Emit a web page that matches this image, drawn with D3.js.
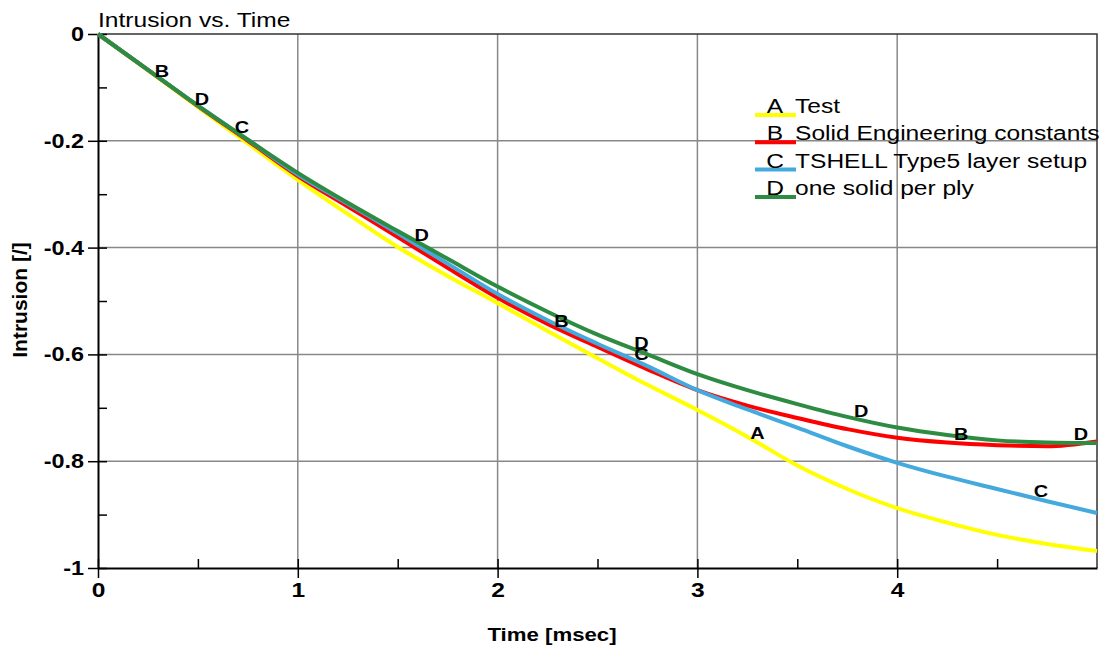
<!DOCTYPE html>
<html>
<head>
<meta charset="utf-8">
<script src="https://cdnjs.cloudflare.com/ajax/libs/d3/7.8.5/d3.min.js"></script>
<style>
  body { margin: 0; background: #fff; }
  svg { display: block; font-family: "Liberation Sans", Arial, sans-serif; }
</style>
</head>
<body>
<svg class="chart" width="1106" height="650"></svg>
<script>
// values
const time    = [0, 0.25, 0.5, 0.75, 1, 1.25, 1.5, 1.75, 2, 2.25, 2.5, 2.75, 3, 3.25, 3.5, 3.75, 4, 4.25, 4.5, 4.75, 5];
const testA   = [0, -0.068, -0.137, -0.205, -0.273, -0.337, -0.399, -0.453, -0.504, -0.556, -0.607, -0.657, -0.704, -0.754, -0.808, -0.852, -0.888, -0.915, -0.938, -0.955, -0.968];
const solidB  = [0, -0.067, -0.135, -0.200, -0.266, -0.323, -0.380, -0.438, -0.494, -0.543, -0.586, -0.628, -0.667, -0.696, -0.719, -0.740, -0.756, -0.765, -0.770, -0.772, -0.763];
const tshellC = [0, -0.067, -0.134, -0.198, -0.263, -0.318, -0.373, -0.430, -0.487, -0.536, -0.580, -0.622, -0.667, -0.703, -0.737, -0.772, -0.803, -0.829, -0.852, -0.875, -0.897];
const plyD    = [0, -0.067, -0.134, -0.198, -0.260, -0.316, -0.369, -0.421, -0.473, -0.520, -0.563, -0.600, -0.637, -0.667, -0.693, -0.717, -0.737, -0.751, -0.761, -0.765, -0.766];

const letters  = ["A", "B", "C", "D"];
const names    = ["Test", "Solid Engineering constants", "TSHELL Type5 layer setup", "one solid per ply"];
const colors   = ["#ffff00", "#ff0000", "#44aade", "#2e8b42"];
// where the letter markers sit along each curve (time)
const markAt   = [[3.3], [0.32, 2.32, 4.32], [0.72, 2.72, 4.72], [0.52, 1.62, 2.72, 3.82, 4.92]];

const xMajor = [0, 1, 2, 3, 4];
const xMinor = [0.5, 1.5, 2.5, 3.5, 4.5];
const yMajor = [0, -0.2, -0.4, -0.6, -0.8, -1];
const yMinor = [-0.1, -0.3, -0.5, -0.7, -0.9];

const svg = d3.select("svg.chart");
const margin = {top: 34, right: 9, bottom: 82, left: 98};
const width = svg.attr("width") - margin.left - margin.right;
const height = svg.attr("height") - margin.top - margin.bottom;
const sx = 1.17; // the reference text is stretched sideways

let x = d3.scaleLinear().domain([0, 5]).range([0, width]),
    y = d3.scaleLinear().domain([-1, 0]).range([height, 0]);

let g = svg.append("g").attr("transform", "translate(" + margin.left + "," + margin.top + ")");

// grid
g.append("g").selectAll("line").data(xMajor.slice(1)).enter().append("line")
    .attr("x1", d => x(d)).attr("x2", d => x(d))
    .attr("y1", 0).attr("y2", height)
    .attr("stroke", "#888").attr("stroke-width", 1.5);
g.append("g").selectAll("line").data(yMajor.slice(1, -1)).enter().append("line")
    .attr("x1", 0).attr("x2", width)
    .attr("y1", d => y(d)).attr("y2", d => y(d))
    .attr("stroke", "#888").attr("stroke-width", 1.5);

// frame top / right
g.append("path")
    .attr("d", "M0,0H" + width + "V" + height)
    .attr("fill", "none").attr("stroke", "#333").attr("stroke-width", 1.5);

// inward ticks (major + minor)
g.append("g")
    .attr("transform", "translate(0," + height + ")")
    .call(d3.axisBottom(x).tickValues(xMajor.concat(xMinor)).tickSize(-9).tickSizeOuter(0).tickFormat(""))
    .call(a => a.select(".domain").remove())
    .selectAll("line").attr("stroke", "#000").attr("stroke-width", 1.5);
g.append("g")
    .call(d3.axisLeft(y).tickValues(yMajor.concat(yMinor)).tickSize(-9).tickSizeOuter(0).tickFormat(""))
    .call(a => a.select(".domain").remove())
    .selectAll("line").attr("stroke", "#000").attr("stroke-width", 1.5);

// x axis
let xa = g.append("g")
    .attr("class", "x-axis")
    .attr("transform", "translate(0," + height + ")")
    .call(d3.axisBottom(x).tickValues(xMajor).tickSize(10).tickSizeOuter(0).tickFormat(d3.format("d")));
xa.select(".domain").attr("stroke-width", 2);
xa.selectAll("line").attr("stroke-width", 1.5);
xa.selectAll("text")
    .attr("y", 14)
    .attr("transform", "scale(" + sx + ",1)")
    .style("font-size", "21px").style("font-weight", "bold").style("fill", "#000")
    .style("font-family", "'Liberation Sans', Arial, sans-serif");

// y axis
let ya = g.append("g")
    .attr("class", "y-axis")
    .call(d3.axisLeft(y).tickValues(yMajor).tickSize(10).tickSizeOuter(0).tickFormat(d => d === 0 ? "0" : d === -1 ? "-1" : d.toFixed(1)));
ya.select(".domain").attr("stroke-width", 2);
ya.selectAll("line").attr("stroke-width", 1.5);
ya.selectAll("text")
    .attr("x", -14 / sx)
    .attr("transform", "scale(" + sx + ",1)")
    .style("font-size", "20px").style("font-weight", "bold").style("fill", "#000")
    .style("font-family", "'Liberation Sans', Arial, sans-serif");

// curves
const series = [testA, solidB, tshellC, plyD];
const line = d3.line().x(d => x(d[0])).y(d => y(d[1])).curve(d3.curveMonotoneX);
series.forEach(function(vals, i) {
    g.append("path")
        .datum(time.map((t, j) => [t, vals[j]]))
        .attr("fill", "none")
        .attr("stroke", colors[i])
        .attr("stroke-width", 4)
        .attr("d", line);
});

// letters along the curves
function valueAt(vals, t) {
    let j = Math.min(d3.bisectRight(time, t) - 1, time.length - 2);
    let f = (t - time[j]) / (time[j + 1] - time[j]);
    return vals[j] + f * (vals[j + 1] - vals[j]);
}
series.forEach(function(vals, i) {
    markAt[i].forEach(function(t) {
        g.append("g")
            .attr("transform", "translate(" + x(t) + "," + (y(valueAt(vals, t)) - 3) + ")")
            .append("text")
            .attr("transform", "scale(" + sx + ",1)")
            .attr("text-anchor", "middle")
            .style("font-size", "17px").style("font-weight", "bold")
            .text(letters[i]);
    });
});

// legend
let legend = svg.append("g").attr("transform", "translate(755,115)");
names.forEach(function(name, i) {
    let row = legend.append("g").attr("transform", "translate(0," + (i * 27.3) + ")");
    row.append("line")
        .attr("x1", 0).attr("x2", 41)
        .attr("stroke", colors[i]).attr("stroke-width", 4);
    row.append("g").attr("transform", "translate(20,-2)")
        .append("text")
        .attr("transform", "scale(" + sx + ",1)")
        .attr("text-anchor", "middle")
        .style("font-size", "21px")
        .text(letters[i]);
    row.append("g").attr("transform", "translate(40,-2)")
        .append("text")
        .attr("transform", "scale(" + sx + ",1)")
        .style("font-size", "21px")
        .text(name);
});

// title and axis titles
svg.append("g").attr("transform", "translate(98,27)")
    .append("text").attr("transform", "scale(" + sx + ",1)")
    .style("font-size", "21px")
    .text("Intrusion vs. Time");

svg.append("g").attr("transform", "translate(552,641)")
    .append("text").attr("transform", "scale(" + sx + ",1)")
    .attr("text-anchor", "middle")
    .style("font-size", "19px").style("font-weight", "bold")
    .text("Time [msec]");

svg.append("text")
    .attr("transform", "translate(27,300) rotate(-90)")
    .attr("text-anchor", "middle")
    .style("font-size", "21px").style("font-weight", "bold")
    .text("Intrusion [/]");
</script>
</body>
</html>
